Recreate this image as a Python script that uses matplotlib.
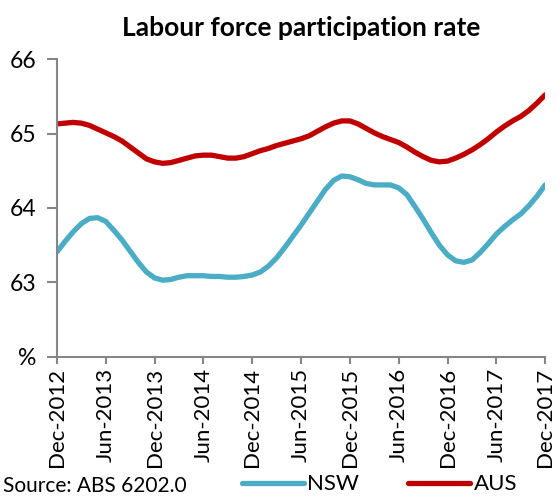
import numpy as np
import matplotlib
matplotlib.use("Agg")
import matplotlib.pyplot as plt

# Monthly participation rate (%), Dec-2012 .. Dec-2017
nsw = [63.41, 63.55, 63.68, 63.79, 63.86, 63.87, 63.82, 63.70, 63.57, 63.42,
       63.27, 63.14, 63.06, 63.03, 63.04, 63.07, 63.09, 63.09, 63.09, 63.08,
       63.08, 63.07, 63.07, 63.08, 63.10, 63.14, 63.22, 63.33, 63.47, 63.62,
       63.77, 63.93, 64.09, 64.25, 64.37, 64.43, 64.42, 64.38, 64.33, 64.31,
       64.31, 64.31, 64.27, 64.18, 64.02, 63.85, 63.67, 63.50, 63.37, 63.29,
       63.27, 63.30, 63.40, 63.52, 63.65, 63.75, 63.84, 63.92, 64.03, 64.16,
       64.31]
aus = [65.13, 65.14, 65.15, 65.14, 65.11, 65.06, 65.01, 64.96, 64.90, 64.82,
       64.74, 64.66, 64.62, 64.60, 64.61, 64.64, 64.67, 64.70, 64.71, 64.71,
       64.69, 64.67, 64.67, 64.69, 64.73, 64.77, 64.80, 64.84, 64.87, 64.90,
       64.93, 64.97, 65.03, 65.09, 65.14, 65.17, 65.17, 65.13, 65.07, 65.01,
       64.96, 64.92, 64.88, 64.82, 64.75, 64.69, 64.64, 64.62, 64.63, 64.67,
       64.72, 64.78, 64.85, 64.93, 65.02, 65.10, 65.17, 65.23, 65.31, 65.41,
       65.52]
xlabels = ["Dec-2012", "Jun-2013", "Dec-2013", "Jun-2014", "Dec-2014", "Jun-2015",
           "Dec-2015", "Jun-2016", "Dec-2016", "Jun-2017", "Dec-2017"]
yticks = [62, 63, 64, 65, 66]
ylabels = ["%", "63", "64", "65", "66"]

plt.rcParams['font.family'] = ['Lato', 'DejaVu Sans']

fig = plt.figure(figsize=(5.58, 4.97), dpi=100)
ax = fig.add_axes([0.102, 0.282, 0.875, 0.599])

months = np.arange(len(nsw))
ax.plot(months, nsw, color='#4BACC6', lw=3.8, label='NSW', solid_capstyle='round')
ax.plot(months, aus, color='#C00000', lw=3.8, label='AUS', solid_capstyle='round')

ax.set_xlim(0, 60)
ax.set_ylim(62, 66)
ax.set_xticks(np.arange(0, 61, 6))
ax.set_xticklabels(xlabels, rotation=90, fontsize=16)
ax.set_yticks(yticks)
ax.set_yticklabels(ylabels, fontsize=16.5)

for s in ['top', 'right']:
    ax.spines[s].set_visible(False)
for s in ['left', 'bottom']:
    ax.spines[s].set_color('#868686')
    ax.spines[s].set_linewidth(1.5)
ax.tick_params(axis='both', colors='#868686', labelcolor='black', width=1.5)
ax.tick_params(axis='y', length=7, pad=8)
ax.tick_params(axis='x', length=5, pad=3)

ax.set_title('Labour force participation rate', fontsize=19, fontweight='bold', pad=17)

fig.text(0.005, 0.002, 'Source: ABS 6202.0', fontsize=15, va='bottom')
fig.legend(loc='lower center', bbox_to_anchor=(0.68, -0.035), ncol=2, frameon=False,
           fontsize=16, handlelength=2.8, handletextpad=0.15, columnspacing=2.2)

fig.savefig('out.png', dpi=100)
